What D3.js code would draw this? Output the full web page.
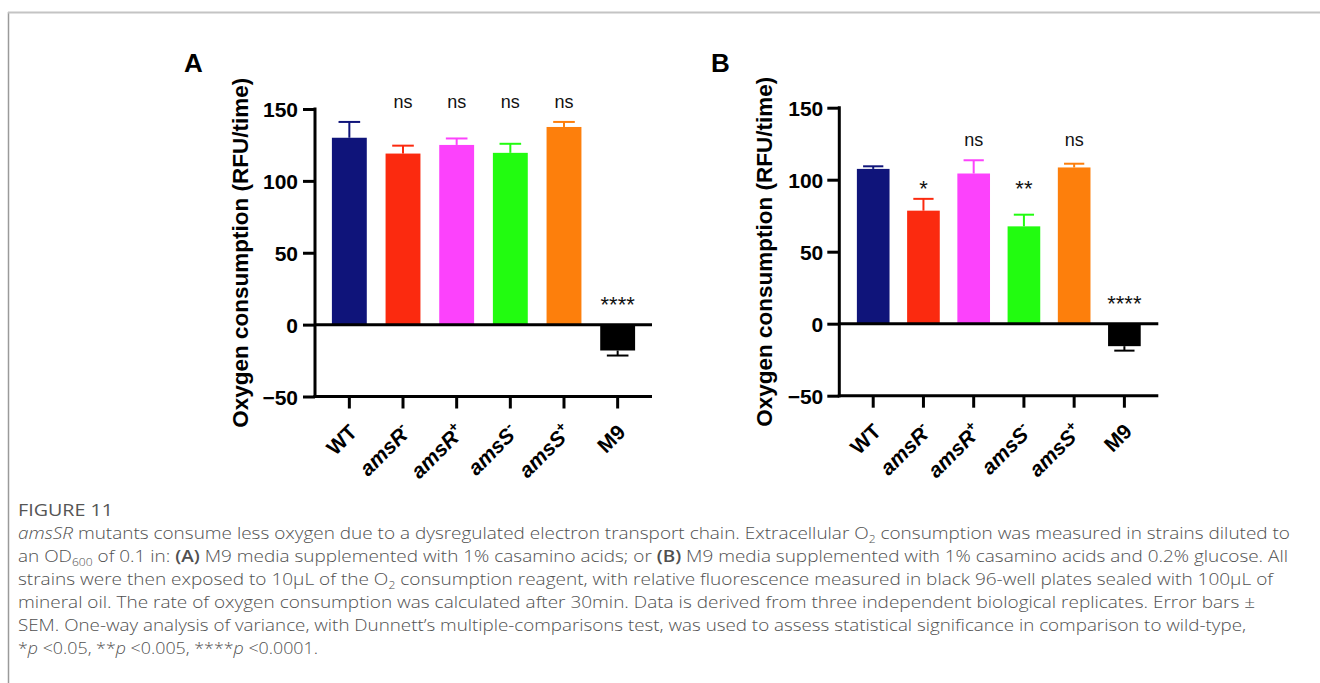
<!DOCTYPE html>
<html>
<head>
<meta charset="utf-8">
<script src="https://cdn.jsdelivr.net/npm/d3@7"></script>
<style>
  html, body { margin: 0; padding: 0; background: #fff; }
  svg { display: block; }
</style>
</head>
<body>
<svg id="chart" width="1320" height="683"></svg>
<script>
// ---------- data ----------
const categories = ["WT", "amsR-", "amsR+", "amsS-", "amsS+", "M9"];
const labelBase  = ["WT", "amsR", "amsR", "amsS", "amsS", "M9"];
const labelSup   = ["", "-", "+", "-", "+", ""];
const labelItalic = [false, true, true, true, true, false];
const barColors  = ["#0f147a", "#fb2a0f", "#fc42fc", "#22fc10", "#fd7f0c", "#000000"];

const yTicks = [-50, 0, 50, 100, 150];

const meanA = [130, 119, 125, 119.5, 137.5, -18];
const semA  = [11, 5.5, 4.5, 6.3, 3.5, 3.5];
const sigA  = ["", "ns", "ns", "ns", "ns", "****"];
const sigAy = [null, 150.7, 150.7, 150.7, 150.7, 9];

const meanB = [107.5, 78.5, 104.3, 67.6, 108.5, -15.6];
const semB  = [1.8, 8.2, 9.2, 8.1, 2.6, 3.1];
const sigB  = ["", "*", "ns", "**", "ns", "****"];
const sigBy = [null, 89, 123.5, 89, 123.5, 9];

const yTitle = "Oxygen consumption (RFU/time)";

// ---------- drawing ----------
const svg = d3.select("#chart");
const FONT = "'Liberation Sans', Arial, Helvetica, sans-serif";

// frame
svg.append("line").attr("x1", 8.5).attr("x2", 8.5).attr("y1", 12).attr("y2", 683)
  .attr("stroke", "#9a9a9a").attr("stroke-width", 1.5);
svg.append("line").attr("x1", 8).attr("x2", 1320).attr("y1", 12.5).attr("y2", 12.5)
  .attr("stroke", "#c4c4c4").attr("stroke-width", 2);

function panel(opt) {
  const g = svg.append("g");
  const y = d3.scaleLinear().domain([-50, 150]).range([opt.yBottom, opt.yTop]);
  const x = d3.scaleBand().domain(categories).range([opt.axisX, opt.xEnd])
    .paddingInner(opt.pi).paddingOuter(opt.po);
  const bw = x.bandwidth();

  // bars
  g.selectAll("rect.bar").data(opt.mean).join("rect")
    .attr("class", "bar")
    .attr("x", (d, i) => x(categories[i]))
    .attr("width", bw)
    .attr("y", d => Math.min(y(d), y(0)))
    .attr("height", d => Math.abs(y(d) - y(0)))
    .attr("fill", (d, i) => barColors[i]);

  // error bars (one-sided, away from zero)
  const capW = bw * 0.62;
  opt.mean.forEach((m, i) => {
    const cx = x(categories[i]) + bw / 2;
    const end = m >= 0 ? m + opt.sem[i] : m - opt.sem[i];
    g.append("line").attr("x1", cx).attr("x2", cx).attr("y1", y(m)).attr("y2", y(end))
      .attr("stroke", barColors[i]).attr("stroke-width", 2);
    g.append("line").attr("x1", cx - capW / 2).attr("x2", cx + capW / 2)
      .attr("y1", y(end)).attr("y2", y(end))
      .attr("stroke", barColors[i]).attr("stroke-width", 2);
  });

  // zero line
  g.append("line").attr("x1", opt.axisX).attr("x2", opt.xEnd)
    .attr("y1", y(0)).attr("y2", y(0))
    .attr("stroke", "#000").attr("stroke-width", 3);

  // y axis
  const yAx = g.append("g").attr("transform", `translate(${opt.axisX},0)`)
    .call(d3.axisLeft(y).tickValues(yTicks).tickSize(12).tickPadding(opt.tickPad).tickSizeOuter(0));
  yAx.select(".domain").attr("stroke-width", 3).attr("d", `M0,${y(150) - 1.5}V${y(-50) + 1.5}`);
  yAx.selectAll(".tick line").attr("stroke-width", 3);
  yAx.selectAll(".tick text").attr("font-family", FONT).attr("font-weight", "bold")
    .attr("font-size", 21).attr("fill", "#000").attr("dy", "0.36em");

  // x axis at bottom
  const xAx = g.append("g").attr("transform", `translate(0,${y(-50)})`)
    .call(d3.axisBottom(x).tickSize(12).tickSizeOuter(0).tickFormat(""));
  xAx.select(".domain").attr("stroke-width", 3).attr("d", `M${opt.axisX - 1.5},0H${opt.xEnd}`);
  xAx.selectAll(".tick line").attr("stroke-width", 3);

  // x labels
  categories.forEach((c, i) => {
    const cx = x(c) + bw / 2;
    const t = g.append("text")
      .attr("transform", `translate(${cx + 9},${y(-50) + 37}) rotate(-45)`)
      .attr("text-anchor", "end")
      .attr("font-family", FONT).attr("font-weight", "bold").attr("font-size", 21)
      .attr("font-style", labelItalic[i] ? "italic" : "normal");
    t.append("tspan").text(labelBase[i]);
    if (labelSup[i]) {
      t.append("tspan").attr("font-size", 14).attr("dy", -9).attr("font-style", "normal").text(labelSup[i]);
    }
  });

  // significance labels
  opt.sig.forEach((s, i) => {
    if (!s) return;
    const cx = x(categories[i]) + bw / 2;
    const isStar = s.indexOf("*") >= 0;
    g.append("text").attr("x", cx).attr("y", y(opt.sigY[i]))
      .attr("text-anchor", "middle")
      .attr("font-family", FONT).attr("font-size", isStar ? 22 : 18)
      .attr("fill", "#111").text(s);
  });

  // y title
  g.append("text")
    .attr("transform", `translate(${opt.axisX - 67},${(y(150) + y(-50)) / 2}) rotate(-90)`)
    .attr("text-anchor", "middle")
    .attr("font-family", FONT).attr("font-weight", "bold").attr("font-size", 22.5)
    .text(yTitle);

  // panel letter
  g.append("text").attr("x", opt.letterX).attr("y", 71.5)
    .attr("font-family", FONT).attr("font-weight", "bold").attr("font-size", 26)
    .text(opt.letter);
}

panel({ letter: "A", letterX: 184, axisX: 315, xEnd: 652, yTop: 109, yBottom: 396.5,
        pi: 0.35, po: 0.315, tickPad: 5, mean: meanA, sem: semA, sig: sigA, sigY: sigAy });
panel({ letter: "B", letterX: 711, axisX: 839.3, xEnd: 1158.3, yTop: 107.7, yBottom: 395.7,
        pi: 0.35, po: 0.35, tickPad: 4, mean: meanB, sem: semB, sig: sigB, sigY: sigBy });

// ---------- caption ----------
const CAP = "'Open Sans', 'Noto Sans', sans-serif";
const capColor = "#505050";
svg.append("text").attr("x", 18).attr("y", 515.5)
  .attr("font-family", CAP).attr("font-size", 16.5).attr("fill", "#555")
  .attr("textLength", 95).attr("lengthAdjust", "spacingAndGlyphs")
  .text("FIGURE 11");

const captionLines = [
  [["amsSR", "i"], [" mutants consume less oxygen due to a dysregulated electron transport chain. Extracellular O"], ["2", "sub"], [" consumption was measured in strains diluted to"]],
  [["an OD"], ["600", "sub"], [" of 0.1 in: "], ["(A)", "b"], [" M9 media supplemented with 1% casamino acids; or "], ["(B)", "b"], [" M9 media supplemented with 1% casamino acids and 0.2% glucose. All"]],
  [["strains were then exposed to 10µL of the O"], ["2", "sub"], [" consumption reagent, with relative fluorescence measured in black 96-well plates sealed with 100µL of"]],
  [["mineral oil. The rate of oxygen consumption was calculated after 30min. Data is derived from three independent biological replicates. Error bars ±"]],
  [["SEM. One-way analysis of variance, with Dunnett’s multiple-comparisons test, was used to assess statistical significance in comparison to wild-type,"]],
  [["*"], ["p", "i"], [" <0.05, **"], ["p", "i"], [" <0.005, ****"], ["p", "i"], [" <0.0001."]]
];
const captionWidths = [1272, 1270, 1255, 1237, 1228, 300];
captionLines.forEach((parts, li) => {
  const t = svg.append("text").attr("x", 18).attr("y", 538.5 + li * 23)
    .attr("font-family", CAP).attr("font-size", 16.5).attr("font-weight", 300).attr("fill", capColor);
  parts.forEach(p => {
    const s = t.append("tspan").text(p[0]);
    if (p[1] === "i") s.attr("font-style", "italic");
    if (p[1] === "b") s.attr("font-weight", 600);
    if (p[1] === "sub") {
      s.attr("font-size", 10.5).attr("dy", 4).attr("data-sub", 1);
    }
  });
  t.selectAll("tspan").each(function (d, k, nodes) {
    if (k > 0 && nodes[k - 1].getAttribute("data-sub")) d3.select(this).attr("dy", -4);
  });
  if (captionWidths[li]) t.attr("textLength", captionWidths[li]).attr("lengthAdjust", "spacingAndGlyphs");
});
</script>
</body>
</html>
